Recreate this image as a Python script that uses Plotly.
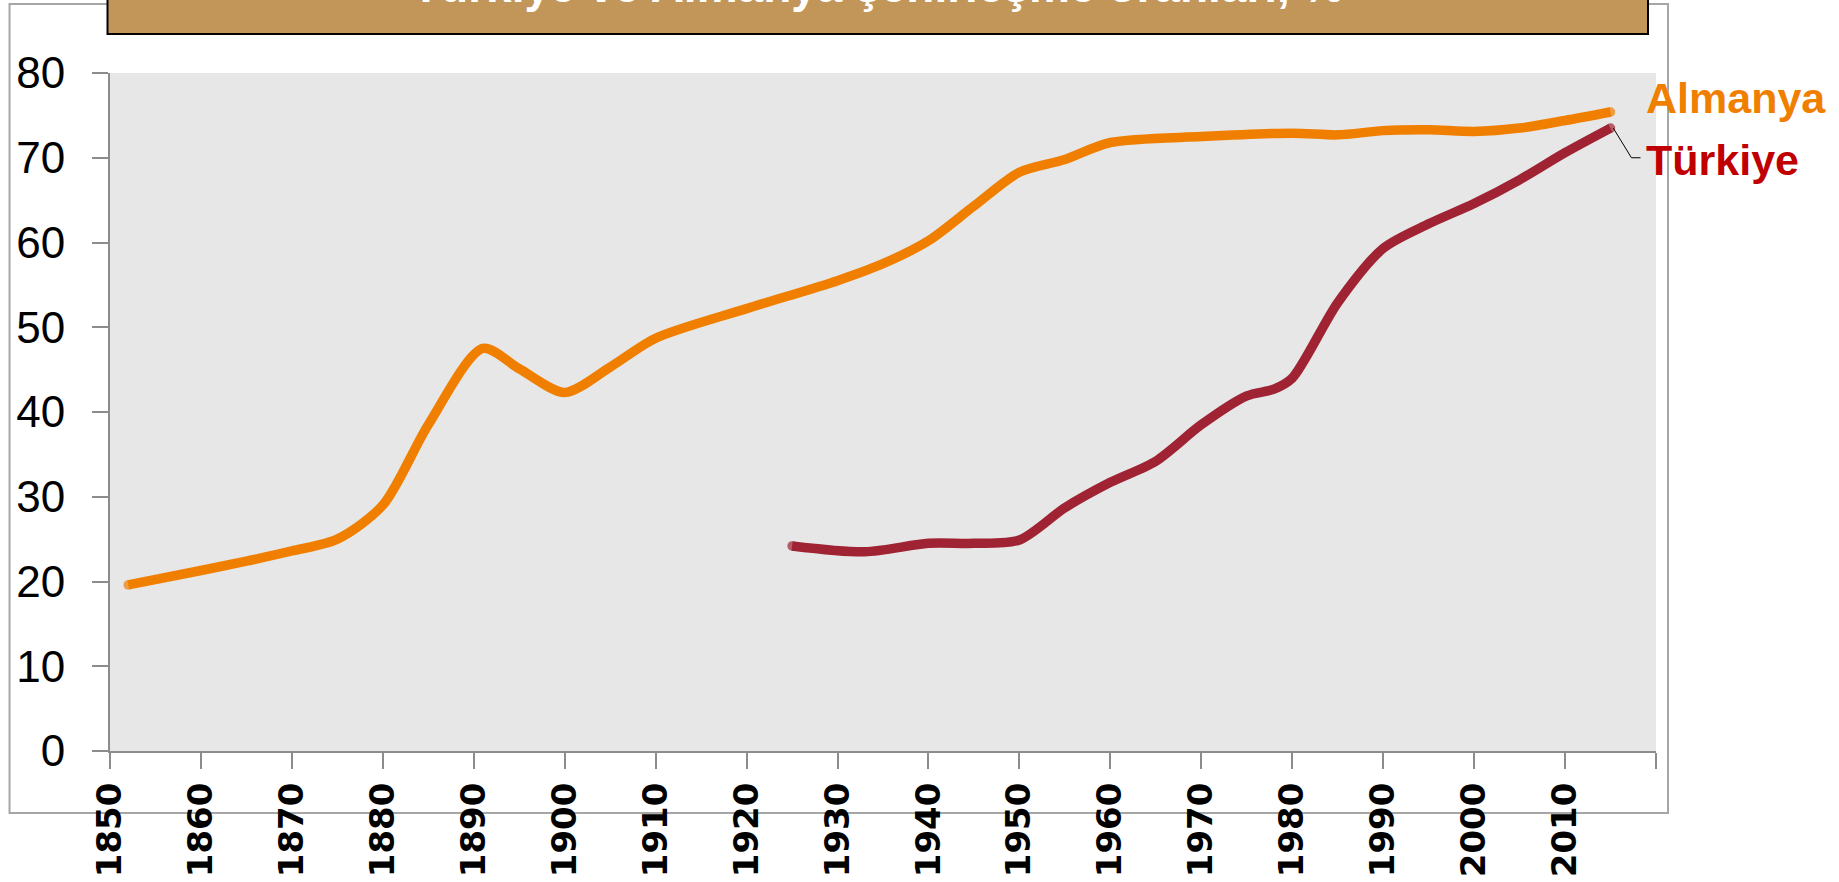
import plotly.graph_objects as go

# ---- data ----
almanya_years = [1852, 1860, 1865, 1870, 1875, 1880, 1885, 1891, 1895, 1900, 1905, 1910,
                 1920, 1930, 1935, 1940, 1945, 1950, 1955, 1960, 1970, 1980, 1985, 1990,
                 1995, 2000, 2005, 2010, 2015]
almanya_values = [19.6, 21.3, 22.4, 23.6, 25.0, 29.0, 38.5, 47.5, 45.1, 42.3, 45.3, 48.7,
                  52.2, 55.5, 57.5, 60.2, 64.3, 68.3, 69.8, 71.8, 72.5, 72.9, 72.7, 73.2,
                  73.3, 73.1, 73.5, 74.4, 75.4]

turkiye_years = [1925, 1933, 1940, 1945, 1950, 1955, 1960, 1965, 1970, 1975, 1978, 1980,
                 1985, 1990, 1995, 2000, 2005, 2010, 2015]
turkiye_values = [24.2, 23.5, 24.5, 24.5, 24.9, 28.7, 31.7, 34.2, 38.5, 41.9, 42.7, 44.0,
                  52.9, 59.3, 62.2, 64.6, 67.4, 70.6, 73.5]

x_tick_vals = list(range(1850, 2021, 10))
x_tick_text = [str(v) for v in x_tick_vals[:-1]] + [""]
y_tick_vals = list(range(0, 81, 10))

title_text = "Türkiye ve Almanya şehirleşme oranları, %"
series_names = ["Almanya", "Türkiye"]

ORANGE = "#F07F00"
DARKRED = "#A02333"
LABEL_RED = "#C00000"

W, H = 1839, 882
L, R, T, B = 109.5, 183, 73, 131
PW, PH = W - L - R, H - T - B


def px_x(p):
    return (p - L) / PW


def px_y(p):
    return (H - B - p) / PH


def end_sizes(n):
    return [9.5] + [0] * (n - 2) + [9.5]


fig = go.Figure()
fig.add_trace(go.Scatter(
    x=almanya_years, y=almanya_values, mode="lines+markers", name=series_names[0],
    line=dict(color=ORANGE, width=9.5, shape="spline", smoothing=0.8),
    marker=dict(color=ORANGE, size=end_sizes(len(almanya_years)), line=dict(width=0)),
    hoverinfo="x+y",
))
fig.add_trace(go.Scatter(
    x=turkiye_years, y=turkiye_values, mode="lines+markers", name=series_names[1],
    line=dict(color=DARKRED, width=9.5, shape="spline", smoothing=0.8),
    marker=dict(color=DARKRED, size=end_sizes(len(turkiye_years)), line=dict(width=0)),
    hoverinfo="x+y",
))

axis_gray = "#8C8C8C"

fig.update_layout(
    width=W, height=H, autosize=False,
    margin=dict(l=L, r=R, t=T, b=B, pad=0),
    paper_bgcolor="white", plot_bgcolor="#E7E7E7",
    showlegend=False,
    xaxis=dict(
        range=[1850, 2020], tickmode="array", tickvals=x_tick_vals, ticktext=x_tick_text,
        ticks="outside", ticklen=16, tickcolor=axis_gray, tickwidth=2,
        showline=True, linecolor=axis_gray, linewidth=2, showgrid=False, zeroline=False,
        tickangle=-90, automargin=False, ticklabelstandoff=0,
        tickfont=dict(family="DejaVu Sans", size=34, color="black", weight="bold"),
    ),
    yaxis=dict(
        range=[0, 80], tickmode="array", tickvals=y_tick_vals,
        ticks="outside", ticklen=16, tickcolor=axis_gray, tickwidth=2,
        showline=True, linecolor=axis_gray, linewidth=2, showgrid=False, zeroline=False,
        automargin=False,
        tickfont=dict(family="Liberation Sans", size=44, color="black"),
        ticklabelstandoff=18,
    ),
)

shapes = []
# outer chart border
shapes.append(dict(type="rect", xref="paper", yref="paper",
                   x0=px_x(9), x1=px_x(1668), y0=px_y(813), y1=px_y(4),
                   line=dict(color="#A6A6A6", width=2), fillcolor="rgba(0,0,0,0)", layer="below"))
# title box
shapes.append(dict(type="rect", xref="paper", yref="paper",
                   x0=px_x(107), x1=px_x(1648), y0=px_y(34), y1=px_y(-30),
                   line=dict(color="black", width=2), fillcolor="#C29659", layer="above"))
# leader line for Türkiye label
tx, ty = turkiye_years[-1], turkiye_values[-1]
x1 = tx + 2.3
x2 = tx + 3.3
y1 = ty - 3.5
shapes.append(dict(type="path", xref="x", yref="y",
                   path=f"M {tx + 0.3},{ty} L {x1},{y1} L {x2},{y1}",
                   line=dict(color="black", width=1)))
fig.update_layout(shapes=shapes)

fig.add_annotation(xref="paper", yref="paper", x=px_x(878), y=px_y(14),
                   xanchor="center", yanchor="bottom", showarrow=False,
                   text=title_text,
                   font=dict(family="Liberation Sans", size=46, color="white", weight="bold"))
fig.add_annotation(xref="paper", yref="paper", x=px_x(1644), y=px_y(98),
                   xanchor="left", yanchor="middle", showarrow=False,
                   text=series_names[0],
                   font=dict(family="Liberation Sans", size=43, color=ORANGE, weight="bold"))
fig.add_annotation(xref="paper", yref="paper", x=px_x(1644), y=px_y(160),
                   xanchor="left", yanchor="middle", showarrow=False,
                   text=series_names[1],
                   font=dict(family="Liberation Sans", size=43, color=LABEL_RED, weight="bold"))

fig.write_html("out.html",
               config={"displayModeBar": False},
               post_script="document.body.style.margin='0';document.body.style.overflow='hidden';")
